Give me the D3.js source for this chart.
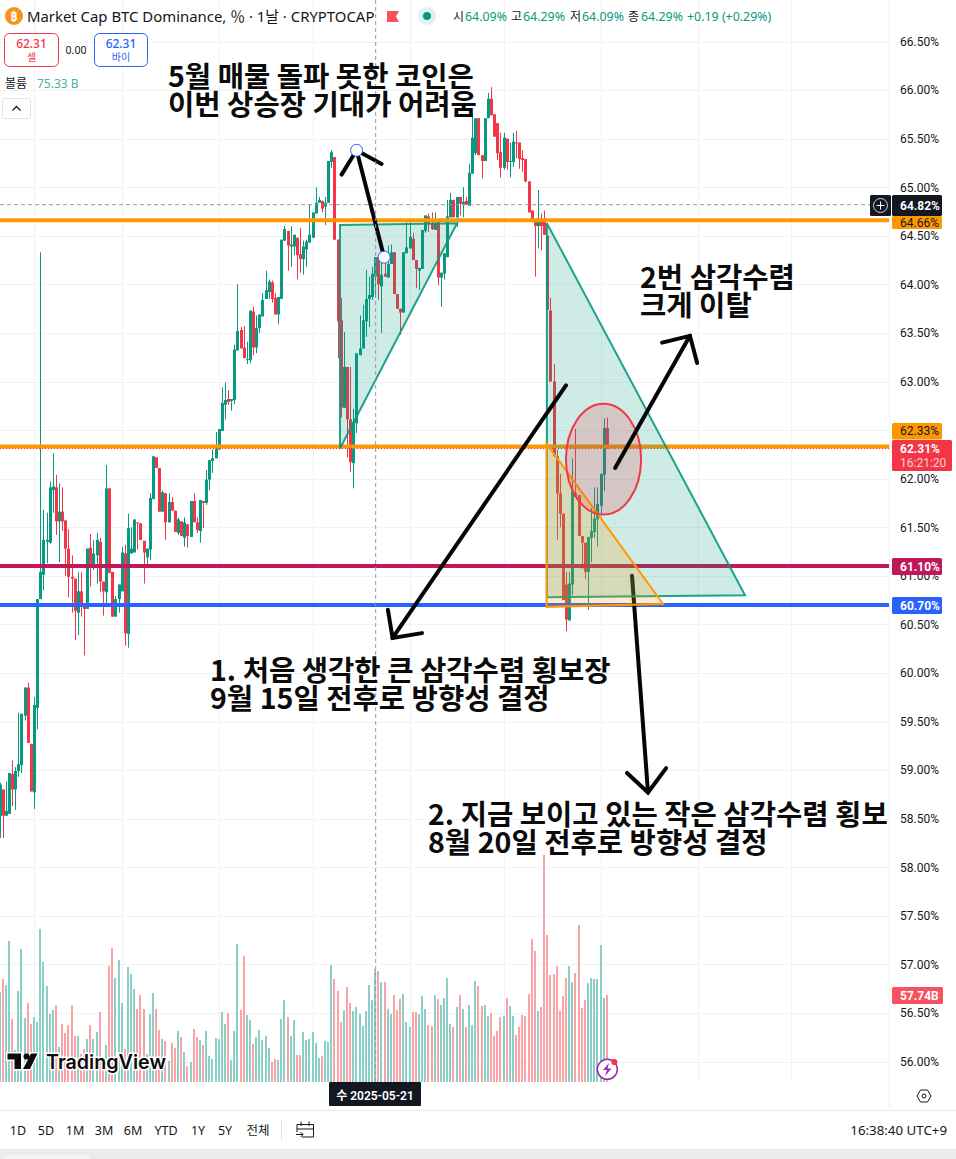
<!DOCTYPE html>
<html><head><meta charset="utf-8">
<style>
html,body{margin:0;padding:0;background:#fff;overflow:hidden}
svg{display:block}
text{font-family:"Noto Sans","Noto Sans CJK KR",sans-serif;fill:#131722}
.ann{font-family:"Noto Sans CJK KR",sans-serif;font-weight:700;font-size:28.6px;fill:#0b0b0b}
.axis path,.axis line{display:none}
</style>
<script src="https://cdn.jsdelivr.net/npm/d3@7/dist/d3.min.js"></script>
</head><body><svg id="c" width="956" height="1159"></svg>
<script>
const startDate = "2025-01-21";
const opens = [58.53,58.80,58.53,58.55,58.96,58.80,58.99,59.05,59.56,59.85,59.27,58.77,59.64,60.76,61.01,61.35,61.34,61.88,61.91,61.56,
61.66,61.57,61.28,60.99,60.97,60.62,60.84,60.72,60.66,61.29,61.08,61.21,61.35,60.94,60.83,61.90,61.04,60.58,60.76,60.84,
61.23,60.40,61.23,61.24,61.55,61.54,61.36,61.19,61.27,61.79,62.22,62.11,61.66,61.85,61.55,61.76,61.67,61.44,61.56,61.39,
61.53,61.40,61.77,61.55,61.46,61.77,61.75,61.99,62.18,62.21,62.30,62.49,62.76,62.82,62.80,62.81,63.32,63.53,63.35,63.22,
63.22,63.72,63.35,63.55,63.67,63.85,63.92,64.02,63.86,63.69,63.85,64.45,64.55,64.39,64.39,64.48,64.31,64.26,64.36,64.43,
64.48,64.73,64.84,64.86,64.80,64.84,65.26,65.31,64.46,63.63,62.73,63.15,62.61,62.16,62.57,63.27,63.34,63.62,63.85,63.87,
64.08,64.28,63.98,64.11,64.07,64.21,64.33,63.90,63.75,63.71,64.32,64.37,64.47,64.25,64.14,64.16,64.55,64.70,64.63,64.56,
64.64,64.07,64.11,64.28,64.69,64.87,64.69,64.90,64.82,64.86,64.81,65.14,65.35,65.71,65.33,65.27,65.71,65.91,65.75,65.66,
65.36,65.20,65.50,65.26,65.26,65.46,65.46,65.30,65.29,65.06,64.76,64.66,64.60,64.67,64.68,64.50,63.73,63.00,62.23,61.85,
61.64,60.91,60.54,60.91,61.85,61.83,61.41,61.34,61.04,61.39,61.45,61.58,61.72,62.04,62.52];
const highs = [58.87,58.80,58.88,58.97,59.10,59.03,59.59,59.58,59.85,59.90,59.27,59.75,60.76,64.33,61.68,61.65,61.97,62.26,62.04,61.95,
61.91,61.57,61.48,61.21,60.97,61.04,61.04,60.72,61.28,61.43,61.37,61.44,61.39,60.94,62.14,61.90,61.04,60.79,60.91,61.30,
61.32,61.64,61.50,61.58,61.55,61.54,61.36,61.28,61.85,62.23,62.22,62.11,61.88,61.85,61.85,61.81,61.67,61.60,61.56,61.60,
61.53,61.77,61.85,61.60,61.78,61.77,62.09,62.19,62.30,62.48,62.51,62.94,62.99,62.91,62.82,63.38,64.00,63.56,63.57,63.41,
63.73,63.77,63.68,63.69,63.91,64.14,64.05,64.04,63.91,63.87,64.46,64.60,64.55,64.60,64.51,64.48,64.58,64.45,64.46,64.82,
64.74,65.00,64.90,64.86,64.90,65.27,65.38,65.31,64.46,63.86,63.51,63.15,63.15,62.72,63.29,63.68,63.79,64.15,64.08,64.18,
64.28,64.28,64.35,64.23,64.40,64.41,64.33,63.90,63.75,64.33,64.64,64.64,64.53,64.25,64.17,64.56,64.71,64.73,64.74,64.74,
64.64,64.12,64.32,64.87,64.94,64.87,64.90,64.90,65.00,64.90,65.24,65.76,65.71,65.71,65.33,65.71,65.97,66.03,65.75,65.66,
65.56,65.56,65.50,65.46,65.56,65.58,65.46,65.38,65.29,65.06,64.76,64.66,64.97,64.73,64.76,64.50,63.86,63.18,62.30,62.05,
61.64,61.04,61.04,62.21,62.51,61.83,61.41,61.34,61.40,61.70,61.91,61.91,62.05,62.62,62.63];
const lows = [58.30,58.30,58.53,58.55,58.63,58.59,58.93,58.97,59.51,59.28,58.78,58.60,59.42,60.76,60.85,61.13,61.33,61.65,61.42,61.14,
61.46,61.00,60.78,60.62,60.34,60.39,60.58,60.18,60.66,60.89,61.06,60.92,60.83,60.59,60.72,61.03,60.58,60.58,60.62,60.84,
60.28,60.26,61.23,61.24,61.27,61.37,60.92,61.11,61.16,61.79,62.11,61.66,61.66,61.37,61.55,61.67,61.45,61.42,61.41,61.30,
61.29,61.40,61.55,61.44,61.34,61.49,61.73,61.88,62.06,62.21,62.30,62.49,62.61,62.76,62.70,62.77,63.32,63.34,63.24,63.18,
63.19,63.27,63.29,63.50,63.67,63.85,63.85,63.81,63.69,63.59,63.85,64.45,64.14,64.18,64.30,64.05,64.12,64.10,64.18,64.43,
64.48,64.73,64.84,64.74,64.61,64.84,65.20,64.46,63.24,62.63,62.73,62.22,62.07,61.90,62.47,63.27,63.34,63.46,63.56,63.84,
63.87,63.84,63.50,64.08,64.07,64.21,63.90,63.75,63.48,63.71,64.32,64.37,64.25,63.96,63.94,64.16,64.53,64.54,64.56,64.56,
63.99,63.77,64.05,64.28,64.69,64.69,64.59,64.71,64.69,64.82,64.81,65.14,65.33,65.33,65.09,65.27,65.71,65.74,65.52,65.28,
65.10,65.18,65.18,65.10,65.21,65.30,65.19,65.16,65.05,64.74,64.64,64.08,64.37,64.35,64.51,63.74,63.00,62.23,61.37,61.50,
60.75,60.43,60.54,60.80,61.81,61.41,61.07,60.97,60.65,61.14,61.39,61.30,61.62,61.87,62.31];
const closes = [58.85,58.53,58.58,58.97,58.80,58.99,59.06,59.58,59.85,59.28,58.78,59.67,60.76,61.04,61.37,61.37,61.91,61.92,61.56,61.66,
61.56,61.28,60.99,60.97,60.64,60.84,60.72,60.66,61.28,61.08,61.23,61.37,60.94,60.84,61.90,61.03,60.58,60.76,60.91,61.24,
60.41,61.49,61.28,61.58,61.54,61.37,61.24,61.28,61.80,62.23,62.11,61.66,61.86,61.55,61.76,61.67,61.45,61.58,61.41,61.55,
61.41,61.77,61.55,61.47,61.78,61.75,61.99,62.19,62.21,62.31,62.51,62.78,62.81,62.79,62.82,63.33,63.52,63.34,63.24,63.23,
63.73,63.35,63.55,63.69,63.84,63.94,64.03,63.85,63.69,63.87,64.46,64.57,64.40,64.41,64.51,64.30,64.26,64.39,64.44,64.51,
64.74,64.84,64.87,64.78,64.84,65.27,65.36,64.46,63.62,62.73,63.15,62.61,62.17,62.58,63.29,63.34,63.63,63.85,63.89,64.11,
64.28,64.00,64.10,64.08,64.21,64.33,63.90,63.75,63.71,64.33,64.38,64.49,64.25,64.16,64.17,64.56,64.71,64.63,64.57,64.63,
64.07,64.12,64.32,64.70,64.87,64.69,64.90,64.83,64.85,64.82,65.15,65.51,65.71,65.33,65.27,65.71,65.91,65.74,65.52,65.35,
65.20,65.51,65.26,65.27,65.47,65.45,65.29,65.28,65.06,64.74,64.66,64.60,64.67,64.60,64.51,63.74,63.00,62.23,61.85,61.64,
60.75,60.55,60.92,61.87,61.81,61.41,61.34,61.04,61.40,61.46,61.59,61.74,62.05,62.52,62.31];
const volumes = [60,68.4,64.7,93.8,42,21.3,60.7,88.7,42.7,52.7,38.7,43.3,40,102,80,64,45.3,48,51.3,23.3,
38.7,32.7,38,51.3,30.7,30.7,19,22,28.7,38,28.7,33.3,46.7,14.7,24.7,77.3,89.3,69.3,81.3,52.7,
22,76.7,72,62,48.7,58,48.7,19,45.3,59.3,48.7,34.7,28.7,27.3,14,26,22.7,34,30,20,
10.7,13.3,35.3,30,28,24.7,34,17.3,15.3,29.3,28.7,46.7,38.7,46,14.7,34,92,48,84,44.7,
41.3,25.3,30,34.7,28,30.7,22.7,13.3,15.3,14.7,42,54.7,43.3,30.7,41.3,18,18,33.3,28,28.7,
33.3,26,16,17.3,27.3,26.7,78,68.7,60.7,40,48,63.3,52.7,47.3,50,45.3,37.3,47.3,64.7,54.7,
75.33,74,66.7,66.7,48.7,45.3,58,48,55.3,58.7,40,36.7,46.7,46.7,45.3,57.3,48.7,38,37.3,58,
55.3,51.3,56,69.3,38.7,36.7,50,58,48.7,36.7,51.3,38,67.3,64,50.7,51.3,44,46,30.7,34,
43.3,44,56,50.7,44,31.3,36.7,44.7,44,58.7,95.3,87.3,47.3,50,151,98,71.3,72,77.3,47.3,
57.3,69.3,77.3,66.7,72.7,104.7,49.3,54.7,66,69.3,68.7,68.7,91.3,56,57.74];
const priceTicks = [56,56.5,57,57.5,58,58.5,59,59.5,60,60.5,61,61.5,62,62.5,63,63.5,64,64.5,65,65.5,66,66.5];
const monthTicks = ["2025-02-01","2025-03-01","2025-04-01","2025-05-01","2025-06-01","2025-07-01","2025-08-01","2025-09-01","2025-10-01","2025-11-01"];
const monthLabels = ["2월","3월","4월","5월","","7월","8월","9월","10월","11월"];
const levelLines = [{p:64.66,c:"#ff9800"},{p:62.33,c:"#ff9800"},{p:61.10,c:"#c2185b"},{p:60.70,c:"#2962ff"}];
const tealTriangles = [[[108.6,64.61],[146,64.63],[108.6,62.31]],[[174.7,64.63],[238,60.80],[174.7,60.78]]];
const orangeTriangle = [[174.6,62.36],[211.8,60.71],[174.6,60.68]];
const ellipseSpec = {k:192.8,p:62.20,rk:12,rp:0.57};
const arrows = [
 {from:[122.7,64.28],tip:[113.9,65.38],h1:[109.1,65.13],h2:[121.9,65.24]},
 {from:[180.8,62.96],tip:[125.4,60.36],h1:[123.9,60.65],h2:[134.8,60.41]},
 {from:[196.5,62.11],tip:[220.4,63.47],h1:[211.5,63.40],h2:[222.7,63.19]}];
const lowerArrow = {from:[201.9,61.00],tip:[207,58.77],h1:[200.3,58.97],h2:[212.8,59.02]};
const crossBar = 120, crossPrice = 64.82, lastPrice = 62.31;
const notes = [
 ["5월 매물 돌파 못한 코인은",168,87],["이번 상승장 기대가 어려움",168,115],
 ["2번 삼각수렴",640,288],["크게 이탈",640,316],
 ["1. 처음 생각한 큰 삼각수렴 횡보장",210,681],["9월 15일 전후로 방향성 결정",210,709],
 ["2. 지금 보이고 있는 작은 삼각수렴 횡보",428,825],["8월 20일 전후로 방향성 결정",428,853]];
const rangeButtons = [["1D",18],["5D",46],["1M",75],["3M",104],["6M",133],["YTD",166],["1Y",198],["5Y",225],["전체",258]];
const stats = [["시",453,"64.09%",465],["고",511,"64.29%",523],["저",570,"64.09%",582],["종",628,"64.29%",641]];

const GREEN="#089981", RED="#f23645";
const plotW=889;
const svg=d3.select("#c");
const t0=new Date(startDate+"T00:00:00Z");
const x=d3.scaleUtc().domain([new Date("2025-02-01T00:00:00Z"),new Date("2025-08-03T00:00:00Z")]).range([34.5,607.3]);
const y=d3.scaleLinear().domain([56,66.5]).range([1061.5,41.5]);
const yVol=d3.scaleLinear().domain([0,100]).range([1082,932]);
const barX=k=>x(new Date(+t0+k*864e5));
const pt=d=>[barX(d[0]),y(d[1])];

const defs=svg.append("defs");
defs.append("clipPath").attr("id","plot").append("rect").attr("x",0).attr("y",0).attr("width",plotW).attr("height",1082);
defs.append("clipPath").attr("id","timeClip").append("rect").attr("x",0).attr("y",1082).attr("width",890).attr("height",30);

// gridlines
const grid=svg.append("g");
grid.selectAll(".hg").data(priceTicks).join("line").attr("x1",0).attr("x2",plotW).attr("y1",d=>Math.round(y(d))+.5).attr("y2",d=>Math.round(y(d))+.5).attr("stroke","#f1f2f5");
grid.selectAll(".vg").data(monthTicks).join("line").attr("x1",d=>Math.floor(x(new Date(d+"T00:00:00Z")))+.5).attr("x2",d=>Math.floor(x(new Date(d+"T00:00:00Z")))+.5).attr("y1",0).attr("y2",1082).attr("stroke","#f1f2f5");

const plot=svg.append("g").attr("clip-path","url(#plot)");

// volume
plot.append("g").selectAll("rect").data(volumes).join("rect")
 .attr("x",(d,i)=>Math.floor(barX(i))-1).attr("width",2)
 .attr("y",d=>Math.round(yVol(d))).attr("height",d=>1082-Math.round(yVol(d)))
 .attr("fill",(d,i)=>closes[i]>=opens[i]?"#8ad0c6":"#f9a3a7");

// candles
const idx=d3.range(closes.length);
const cg=plot.append("g");
cg.selectAll(".w").data(idx).join("rect").attr("x",i=>Math.floor(barX(i))).attr("width",1)
 .attr("y",i=>y(highs[i])).attr("height",i=>Math.max(1,y(lows[i])-y(highs[i])))
 .attr("fill",i=>closes[i]>=opens[i]?GREEN:RED);
cg.selectAll(".b").data(idx).join("rect").attr("x",i=>Math.floor(barX(i))-1).attr("width",3)
 .attr("y",i=>y(Math.max(opens[i],closes[i]))).attr("height",i=>Math.max(1,Math.abs(y(opens[i])-y(closes[i]))))
 .attr("fill",i=>closes[i]>=opens[i]?GREEN:RED);

// level lines, current-price dotted line and crosshair
const dr=plot.append("g");
const line=d3.line().x(d=>barX(d[0])).y(d=>y(d[1]));
levelLines.forEach(l=>dr.append("line").attr("x1",0).attr("x2",plotW).attr("y1",y(l.p)).attr("y2",y(l.p)).attr("stroke",l.c).attr("stroke-width",4));
dr.append("line").attr("x1",0).attr("x2",plotW).attr("y1",y(lastPrice)).attr("y2",y(lastPrice)).attr("stroke",RED).attr("stroke-dasharray","1 2");
dr.append("line").attr("x1",0).attr("x2",plotW).attr("y1",y(crossPrice)).attr("y2",y(crossPrice)).attr("stroke","#9598a1").attr("stroke-dasharray","4 3");
svg.append("line").attr("x1",barX(crossBar)).attr("x2",barX(crossBar)).attr("y1",0).attr("y2",1082).attr("stroke","#9598a1").attr("stroke-dasharray","4 3");

function drawArrow(a){
 dr.append("path").attr("d",line([a.from,a.tip])).attr("stroke","#050505").attr("stroke-width",4).attr("fill","none").attr("stroke-linecap","round");
 dr.append("path").attr("d",line([a.h1,a.tip,a.h2])).attr("stroke","#050505").attr("stroke-width",4).attr("fill","none").attr("stroke-linecap","round");
}
// drawings
drawArrow(lowerArrow);
tealTriangles.forEach(t=>dr.append("path").attr("d",line(t)+"Z").attr("fill","rgba(8,153,129,.2)").attr("stroke",GREEN).attr("stroke-width",2).attr("stroke-opacity",.9));
dr.append("path").attr("d",line(orangeTriangle)+"Z").attr("fill","rgba(255,152,0,.2)").attr("stroke","#ff9800").attr("stroke-width",2);
dr.append("ellipse").attr("cx",barX(ellipseSpec.k)).attr("cy",y(ellipseSpec.p))
 .attr("rx",barX(ellipseSpec.k+ellipseSpec.rk)-barX(ellipseSpec.k)).attr("ry",y(ellipseSpec.p-ellipseSpec.rp)-y(ellipseSpec.p))
 .attr("fill","rgba(242,54,69,.2)").attr("stroke",RED).attr("stroke-width",2);
arrows.forEach(drawArrow);
[arrows[0].from,arrows[0].tip].forEach(d=>dr.append("circle").attr("cx",pt(d)[0]).attr("cy",pt(d)[1]).attr("r",6).attr("fill","#fff").attr("stroke","#2962ff").attr("stroke-width",1));

// annotations
svg.append("g").attr("clip-path","url(#plot)").selectAll("text").data(notes).join("text").attr("class","ann")
 .attr("x",d=>d[1]).attr("y",d=>d[2]).text(d=>d[0]);

// TradingView logo
const logo=svg.append("g");
const logoPath="M7.5 1053.5H21V1069H14.5V1059.5H7.5Z M31 1053.5H37.5L30 1069H23Z";
logo.append("path").attr("d",logoPath).attr("fill","#0b0b0f").attr("stroke","#fff").attr("stroke-width",3).attr("paint-order","stroke");
logo.append("circle").attr("cx",26.5).attr("cy",1056.5).attr("r",3).attr("fill","#0b0b0f");
logo.append("text").attr("x",46).attr("y",1068.5).attr("font-size",19.7).attr("font-weight",600)
 .attr("stroke","#fff").attr("stroke-width",3).attr("paint-order","stroke").style("fill","#0b0b0f").style("font-family","Inter,sans-serif").text("TradingView");
// lightning icon
const ic=svg.append("g");
ic.append("circle").attr("cx",607.3).attr("cy",1069.3).attr("r",10).attr("fill","#fff").attr("stroke","#9c27b0").attr("stroke-width",1.5);
ic.append("path").attr("d","M609 1063L603 1070H607L605 1076L611.5 1068.5H607.5Z").attr("fill","#9c27b0");
ic.append("circle").attr("cx",614.3).attr("cy",1062).attr("r",3).attr("fill",RED);

// price axis
svg.append("line").attr("x1",889.5).attr("x2",889.5).attr("y1",0).attr("y2",1108).attr("stroke","#f0f1f4");
const yAxis=d3.axisRight(y).tickValues(priceTicks).tickSize(0).tickPadding(0).tickFormat(d=>d3.format(".2f")(d)+"%");
svg.append("g").attr("class","axis").attr("transform","translate(900,0)").call(yAxis)
 .call(g=>g.selectAll("text").attr("font-size",12).attr("fill","#131722").style("font-family","Roboto"));

// time axis
const xAxis=d3.axisBottom(x).tickValues(monthTicks.map(d=>new Date(d+"T00:00:00Z"))).tickSize(0).tickPadding(0).tickFormat((d,i)=>monthLabels[i]);
svg.append("g").attr("class","axis").attr("clip-path","url(#timeClip)").attr("transform","translate(0,1089)").call(xAxis)
 .call(g=>g.selectAll("text").attr("font-size",12).attr("font-weight",600).attr("fill","#131722"));
svg.append("rect").attr("x",329).attr("y",1082).attr("width",92).attr("height",24).attr("fill","#131722").attr("rx",1);
svg.append("text").attr("x",375).attr("y",1100).attr("text-anchor","middle").attr("font-size",12).attr("font-weight",600).style("fill","#fff").style("font-family","Roboto,'Noto Sans CJK KR'").text("수 2025-05-21");
// settings hexagon
svg.append("path").attr("d","M917 1096L920.5 1090H927.5L931 1096L927.5 1102H920.5Z").attr("fill","none").attr("stroke","#131722").attr("stroke-width",1);
svg.append("circle").attr("cx",924).attr("cy",1096).attr("r",2).attr("fill","none").attr("stroke","#131722");

// price labels
function tag(x0,w,y0,h,fill,txt,col){
 svg.append("rect").attr("x",x0).attr("y",y0).attr("width",w).attr("height",h).attr("fill",fill).attr("rx",1.5);
 svg.append("text").attr("x",900).attr("y",y0+h/2+4.2).attr("font-size",12).style("fill",col).style("font-family","Roboto").attr("font-weight",col==="#fff"?700:400).text(txt);
}
tag(892,50,195,21,"#131722",d3.format(".2f")(crossPrice)+"%","#fff");
tag(892,50,216,13,"#ff9800","64.66%","#131722");
tag(892,50,423,16.5,"#ff9800","62.33%","#131722");
tag(892,50,558,17,"#c2185b","61.10%","#fff");
tag(892,50,597,17,"#2962ff","60.70%","#fff");
svg.append("rect").attr("x",892).attr("y",440).attr("width",60).attr("height",31).attr("fill",RED).attr("rx",1.5);
svg.append("text").attr("x",900).attr("y",453).attr("font-size",12).attr("font-weight",700).style("font-family","Roboto").style("fill","#fff").text("62.31%");
svg.append("text").attr("x",900).attr("y",467).attr("font-size",12).style("font-family","Roboto").style("fill","#fbd0d4").text("16:21:20");
svg.append("rect").attr("x",892).attr("y",987).attr("width",51).attr("height",17).attr("fill","#f7525f").attr("rx",1.5);
svg.append("text").attr("x",900).attr("y",1000).attr("font-size",12).attr("font-weight",700).style("font-family","Roboto").style("fill","#fff").text("57.74B");
svg.append("rect").attr("x",870).attr("y",195).attr("width",21).attr("height",21).attr("fill","#131722").attr("rx",1.5);
svg.append("circle").attr("cx",880.5).attr("cy",205.5).attr("r",7).attr("fill","none").attr("stroke","#d1d4dc");
svg.append("path").attr("d","M880.5 201.5V209.5M876.5 205.5H884.5").attr("stroke","#fff").attr("fill","none");

// header
svg.append("circle").attr("cx",14).attr("cy",16).attr("r",9).attr("fill","#f7931a");
svg.append("text").attr("x",14).attr("y",20.5).attr("text-anchor","middle").attr("font-size",12).attr("font-weight",700).style("fill","#fff").text("₿");
svg.append("text").attr("x",27).attr("y",21.5).attr("font-size",14.9).style("fill","#131722").text("Market Cap BTC Dominance, ％ · 1날 · CRYPTOCAP");
svg.append("path").attr("d","M387 11H399L396 16.5L399 22H387Z").attr("fill","#f7525f");
svg.append("circle").attr("cx",427).attr("cy",16).attr("r",9).attr("fill","#e0f1ee");
svg.append("circle").attr("cx",427).attr("cy",16).attr("r",4).attr("fill",GREEN);
stats.forEach(s=>{
 svg.append("text").attr("x",s[1]).attr("y",21).attr("font-size",12).text(s[0]);
 svg.append("text").attr("x",s[3]).attr("y",21).attr("font-size",12.4).style("fill",GREEN).text(s[2]);
});
svg.append("text").attr("x",687).attr("y",21).attr("font-size",12.4).style("fill",GREEN).text("+0.19 (+0.29%)");

// sell/buy
svg.append("rect").attr("x",4.5).attr("y",33.5).attr("width",54).attr("height",33).attr("rx",5).attr("fill","#fff").attr("stroke",RED);
svg.append("text").attr("x",31.5).attr("y",47.5).attr("text-anchor","middle").attr("font-size",12).attr("font-weight",500).style("fill",RED).text("62.31");
svg.append("text").attr("x",31.5).attr("y",61).attr("text-anchor","middle").attr("font-size",10).style("fill",RED).text("셀");
svg.append("text").attr("x",76).attr("y",53.5).attr("text-anchor","middle").attr("font-size",10.5).text("0.00");
svg.append("rect").attr("x",94.5).attr("y",33.5).attr("width",53).attr("height",33).attr("rx",5).attr("fill","#fff").attr("stroke","#2962ff");
svg.append("text").attr("x",121).attr("y",47.5).attr("text-anchor","middle").attr("font-size",12).attr("font-weight",500).style("fill","#2962ff").text("62.31");
svg.append("text").attr("x",121).attr("y",61).attr("text-anchor","middle").attr("font-size",10).style("fill","#2962ff").text("바이");
svg.append("text").attr("x",5).attr("y",88).attr("font-size",12).text("볼륨");
svg.append("text").attr("x",37).attr("y",88).attr("font-size",12).style("fill","#3fb5a3").text("75.33 B");
svg.append("rect").attr("x",2.5).attr("y",98.5).attr("width",28).attr("height",20).attr("rx",2).attr("fill","#fff").attr("stroke","#e0e3eb");
svg.append("path").attr("d","M12.5 110.5L16.5 106.5L20.5 110.5").attr("fill","none").attr("stroke","#131722").attr("stroke-width",1.3);

// bottom bar
svg.append("line").attr("x1",0).attr("x2",956).attr("y1",1110.5).attr("y2",1110.5).attr("stroke","#e8e9ed");
svg.selectAll(".rb").data(rangeButtons).join("text").attr("x",d=>d[1]).attr("y",1134.5).attr("text-anchor","middle").attr("font-size",12.5).text(d=>d[0]);
svg.append("line").attr("x1",281.5).attr("x2",281.5).attr("y1",1119).attr("y2",1141).attr("stroke","#e0e3eb");
svg.append("path").attr("d","M297 1124.5H313.5V1137H302M297 1132V1124.5M301 1121.5V1126M309 1121.5V1126M297 1129H313.5M296 1134.5H303M300.5 1132L303 1134.5L300.5 1137").attr("fill","none").attr("stroke","#131722");
svg.append("text").attr("x",947).attr("y",1134.5).attr("text-anchor","end").attr("font-size",13.3).text("16:38:40 UTC+9");
svg.append("rect").attr("x",0).attr("y",1149).attr("width",956).attr("height",10).attr("fill","#ebebeb");
svg.append("path").attr("d","M3 1159V1157Q3 1155 5 1155H88Q90 1155 90 1157V1159Z").attr("fill","#f3f3f3");
</script></body></html>
